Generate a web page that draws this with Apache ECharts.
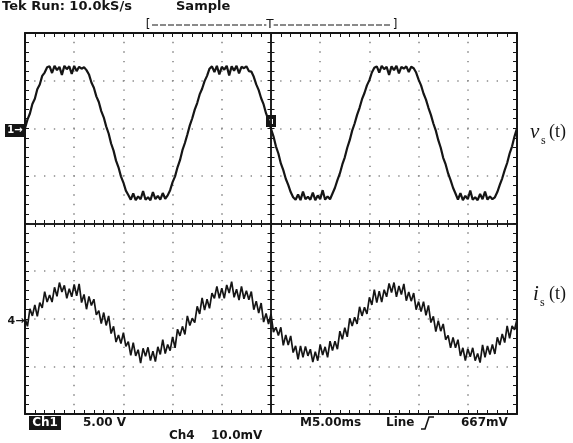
<!DOCTYPE html>
<html><head><meta charset="utf-8">
<script src="https://cdn.jsdelivr.net/npm/echarts@6/dist/echarts.min.js"></script>
<style>html,body{margin:0;padding:0;background:#fff}#c{width:573px;height:443px}</style>
</head><body><div id="c"></div>
<script>
// time base: samples every 0.25 ms, screen spans -25..+25 ms (5 ms/div, 10 div)
const SAMPLE_MS = 0.25;
const T_START_MS = -25;
const TIME_RANGE = [-25, 25];
const TIME_DIV = 5;
const VOLT_RANGE = [-4, 4];   // screen divisions
const VOLT_DIV = 1;

// Channel 1 trace v_s(t), in screen divisions (ground marker at +2 div)
const vsDiv = [
2.00,2.18,2.31,2.51,2.62,2.82,2.92,3.10,3.17,3.28,
3.30,3.16,3.31,3.22,3.29,3.12,3.31,3.24,3.30,3.14,3.31,3.20,3.29,3.25,3.28,
3.22,3.13,2.96,2.85,2.67,2.55,2.36,2.23,2.04,1.89,1.68,1.53,1.32,1.18,0.99,0.86,0.69,0.60,
0.50,0.63,0.49,0.57,0.51,0.68,0.50,0.55,0.49,0.66,0.51,0.58,0.50,0.64,0.52,
0.59,0.70,0.87,0.99,1.18,1.33,1.54,1.69,1.87,
2.06,2.21,2.39,2.53,2.71,2.83,2.99,3.10,3.25,
3.30,3.18,3.31,3.13,3.29,3.23,3.31,3.11,3.30,3.21,3.31,3.15,3.29,3.26,3.30,3.20,
3.19,3.08,2.92,2.80,2.63,2.50,2.31,2.17,1.99,1.83,1.62,1.47,1.26,1.12,0.94,0.81,0.66,0.55,
0.50,0.61,0.49,0.67,0.51,0.56,0.50,0.65,0.49,0.59,0.51,0.70,0.50,0.57,0.51,
0.63,0.75,0.91,1.05,1.24,1.39,1.59,1.75,1.95,
2.10,2.28,2.43,2.61,2.74,2.90,3.01,3.17,3.27,
3.30,3.17,3.31,3.24,3.29,3.12,3.30,3.22,3.31,3.15,3.29,3.25,3.30,3.18,3.29,
3.26,3.17,3.02,2.90,2.73,2.60,2.43,2.28,2.10,1.95,1.75,1.59,1.38,1.24,1.05,0.91,0.75,0.63,
0.50,0.64,0.49,0.58,0.51,0.69,0.50,0.55,0.49,0.62,0.51,0.67,0.50,0.57,0.51,
0.55,0.66,0.81,0.95,1.12,1.27,1.47,1.62,1.83,2.00
];

// Channel 4 trace i_s(t), in screen divisions (ground marker at -2 div)
const isDiv = [
-1.99,-2.16,-1.79,-1.94,-1.71,-1.95,-1.66,-1.77,-1.43,-1.65,
-1.50,-1.65,-1.34,-1.53,-1.24,-1.44,-1.30,-1.57,-1.37,-1.54,
-1.28,-1.52,-1.27,-1.66,-1.49,-1.80,-1.53,-1.72,-1.59,-1.92,
-1.83,-2.10,-1.87,-2.14,-1.94,-2.31,-2.16,-2.49,-2.34,-2.52,
-2.29,-2.58,-2.48,-2.77,-2.50,-2.78,-2.65,-2.93,-2.62,-2.79,
-2.60,-2.88,-2.68,-2.90,-2.59,-2.75,-2.44,-2.73,-2.54,-2.67,
-2.38,-2.61,-2.22,-2.36,-2.16,-2.33,-1.94,-2.14,-1.99,-2.08,
-1.74,-1.90,-1.56,-1.82,-1.59,-1.78,-1.46,-1.57,-1.32,-1.57,
-1.36,-1.57,-1.29,-1.46,-1.22,-1.55,-1.38,-1.61,-1.32,-1.58,
-1.41,-1.60,-1.43,-1.81,-1.63,-1.88,-1.67,-2.07,-1.89,-2.11,
-1.90,-2.28,-2.18,-2.35,-2.18,-2.56,-2.34,-2.55,-2.36,-2.71,
-2.57,-2.85,-2.57,-2.81,-2.58,-2.78,-2.64,-2.91,-2.69,-2.88,
-2.54,-2.76,-2.59,-2.81,-2.47,-2.67,-2.47,-2.64,-2.26,-2.43,
-2.19,-2.38,-1.99,-2.15,-1.97,-2.11,-1.75,-1.94,-1.76,-1.90,
-1.55,-1.71,-1.39,-1.66,-1.42,-1.65,-1.39,-1.54,-1.26,-1.45,
-1.24,-1.54,-1.31,-1.49,-1.27,-1.62,-1.44,-1.63,-1.46,-1.81,
-1.64,-1.85,-1.64,-1.93,-1.72,-2.08,-1.95,-2.27,-2.04,-2.26,
-2.11,-2.44,-2.35,-2.61,-2.39,-2.61,-2.44,-2.78,-2.61,-2.88,
-2.63,-2.80,-2.61,-2.88,-2.73,-2.92,-2.55,-2.81,-2.57,-2.75,
-2.54,-2.74,-2.39,-2.55,-2.32,-2.50,-2.15,-2.41,-2.15,-2.23,
-2.01
];

const headerTexts = ['Tek Run: 10.0kS/s', 'Sample'];
const footerTexts = ['Ch1', '5.00 V', 'M5.00ms', 'Line', '667mV', 'Ch4', '10.0mV'];

const toPairs = arr => arr.map((v, i) => [T_START_MS + i * SAMPLE_MS, v]);

const INK = '#151515';
const SANS = '"DejaVu Sans", sans-serif';
const SERIF = '"Liberation Serif", "DejaVu Serif", serif';

const xBase = {type:'value', min:TIME_RANGE[0], max:TIME_RANGE[1], interval:TIME_DIV, axisLabel:{show:false}, splitLine:{show:false}};
const yBase = {type:'value', min:VOLT_RANGE[0], max:VOLT_RANGE[1], interval:VOLT_DIV, axisLabel:{show:false}, splitLine:{show:false}};
function edge(base, pos, extra) {
  return Object.assign({}, base, {
    position: pos,
    axisLine: {show:true, onZero:false, lineStyle:{color:INK, width:2}},
    axisTick: {show:true, inside:true, length:4, lineStyle:{color:INK, width:1}},
    minorTick: {show:true, splitNumber:5, length:4, lineStyle:{color:INK, width:1}}
  }, extra || {});
}
function cross(base, pos, inside) {
  return Object.assign({}, base, {
    position: pos,
    axisLine: {show:true, onZero:true, onZeroAxisIndex:0, lineStyle:{color:INK, width:1.5}},
    axisTick: {show:true, inside:inside, length:3.5, lineStyle:{color:INK, width:1}},
    minorTick: {show:true, splitNumber:5, length:3.5, lineStyle:{color:INK, width:1}}
  });
}

const chart = echarts.init(document.getElementById('c'), null, {renderer:'canvas', width:573, height:443});
chart.setOption({
  backgroundColor: '#fff',
  animation: false,
  grid: {left:25, top:33, width:492, height:381, show:false},
  xAxis: [
    edge(xBase, 'bottom', {splitLine:{show:true, lineStyle:{color:'#8a8a8a', width:1.6, type:[1.4, 8.125], dashOffset:0.7}}}),
    edge(xBase, 'top'),
    cross(xBase, 'bottom', true),
    cross(xBase, 'bottom', false)
  ],
  yAxis: [
    edge(yBase, 'left', {splitLine:{show:true, lineStyle:{color:'#8a8a8a', width:1.6, type:[1.4, 8.44], dashOffset:0.7}}}),
    edge(yBase, 'right'),
    cross(yBase, 'left', true),
    cross(yBase, 'left', false)
  ],
  series: [
    {name:'v_s(t)', type:'line', data:toPairs(vsDiv), xAxisIndex:0, yAxisIndex:0, showSymbol:false, symbol:'none', silent:true,
     lineStyle:{color:INK, width:2.2}},
    {name:'i_s(t)', type:'line', data:toPairs(isDiv), xAxisIndex:0, yAxisIndex:0, showSymbol:false, symbol:'none', silent:true,
     lineStyle:{color:INK, width:1.7}}
  ],
  graphic: [
    {type:'text', x:2, y:7, style:{text:headerTexts[0], font:'bold 13px ' + SANS, fill:INK, verticalAlign:'middle'}},
    {type:'text', x:176, y:7, style:{text:headerTexts[1], font:'bold 13px ' + SANS, fill:INK, verticalAlign:'middle'}},
    // record-position bracket
    {type:'line', shape:{x1:152, y1:25, x2:392, y2:25}, style:{stroke:INK, lineWidth:1, lineDash:[6,2]}},
    {type:'text', x:148, y:25, style:{text:'[', font:'12px ' + SANS, fill:INK, align:'center', verticalAlign:'middle'}},
    {type:'text', x:395, y:25, style:{text:']', font:'12px ' + SANS, fill:INK, align:'center', verticalAlign:'middle'}},
    {type:'text', x:270, y:25, style:{text:'T', font:'12px ' + SANS, fill:INK, align:'center', verticalAlign:'middle', backgroundColor:'#fff'}},
    // channel markers
    {type:'rect', shape:{x:5, y:124, width:20, height:13}, style:{fill:INK}},
    {type:'text', x:15, y:130.5, style:{text:'1→', font:'bold 10px ' + SANS, fill:'#fff', align:'center', verticalAlign:'middle'}},
    {type:'text', x:16, y:321, style:{text:'4→', font:'bold 11px ' + SANS, fill:INK, align:'center', verticalAlign:'middle'}},
    // trigger level marker
    {type:'rect', shape:{x:266, y:115, width:10, height:12}, style:{fill:INK}},
    {type:'rect', shape:{x:269, y:118, width:4, height:6}, style:{fill:'#fff'}},
    // right labels
    {type:'text', x:530, y:132, style:{text:'v', font:'italic 21px ' + SERIF, fill:INK, verticalAlign:'middle'}},
    {type:'text', x:541, y:141, style:{text:'s', font:'12px ' + SERIF, fill:INK, verticalAlign:'middle'}},
    {type:'text', x:549, y:132, style:{text:'(t)', font:'18px ' + SERIF, fill:INK, verticalAlign:'middle'}},
    {type:'text', x:533, y:294, style:{text:'i', font:'italic 21px ' + SERIF, fill:INK, verticalAlign:'middle'}},
    {type:'text', x:540, y:303, style:{text:'s', font:'12px ' + SERIF, fill:INK, verticalAlign:'middle'}},
    {type:'text', x:549, y:294, style:{text:'(t)', font:'18px ' + SERIF, fill:INK, verticalAlign:'middle'}},
    // footer
    {type:'rect', shape:{x:29, y:416, width:32, height:14}, style:{fill:INK}},
    {type:'text', x:45, y:423, style:{text:footerTexts[0], font:'bold 12px ' + SANS, fill:'#fff', align:'center', verticalAlign:'middle'}},
    {type:'text', x:83, y:423, style:{text:footerTexts[1], font:'bold 12px ' + SANS, fill:INK, verticalAlign:'middle'}},
    {type:'text', x:300, y:423, style:{text:footerTexts[2], font:'bold 12px ' + SANS, fill:INK, verticalAlign:'middle'}},
    {type:'text', x:386, y:423, style:{text:footerTexts[3], font:'bold 12px ' + SANS, fill:INK, verticalAlign:'middle'}},
    {type:'polyline', shape:{points:[[421,429],[425,429],[429,417],[434,417]]}, style:{stroke:INK, lineWidth:1.6, fill:null}},
    {type:'text', x:461, y:423, style:{text:footerTexts[4], font:'bold 12px ' + SANS, fill:INK, verticalAlign:'middle'}},
    {type:'text', x:169, y:436, style:{text:footerTexts[5], font:'bold 12px ' + SANS, fill:INK, verticalAlign:'middle'}},
    {type:'text', x:211, y:436, style:{text:footerTexts[6], font:'bold 12px ' + SANS, fill:INK, verticalAlign:'middle'}}
  ]
});
</script>
</body></html>
